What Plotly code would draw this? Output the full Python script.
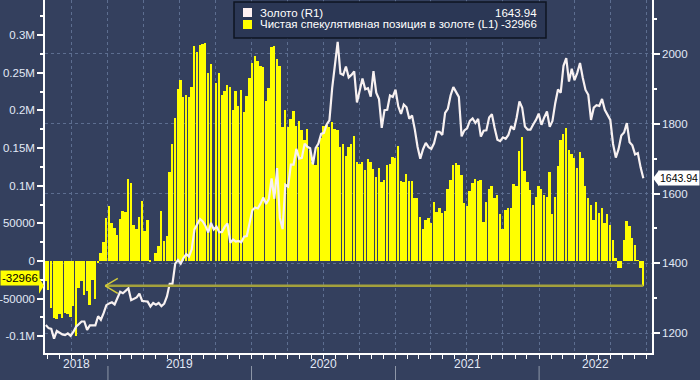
import pandas as pd
import plotly.graph_objects as go

# ---------------- data ----------------
start_date = "2018-07-27"   # weekly observations

# Gold price, weekly close (R1)
gold = [
    # 2018
    1223, 1214, 1212, 1184, 1206, 1201, 1196, 1194, 1199, 1192, 1203, 1218,
    1226, 1233, 1233, 1209, 1222, 1223, 1222, 1248, 1238, 1257, 1280,
    # 2019
    1285, 1288, 1282, 1303, 1318, 1314, 1322, 1328, 1294, 1298, 1302, 1313,
    1292, 1291, 1290, 1276, 1286, 1281, 1286, 1277, 1284, 1305, 1341, 1341,
    1399, 1409, 1399, 1415, 1426, 1419, 1440, 1497, 1513, 1527, 1520, 1507,
    1488, 1516, 1497, 1505, 1489, 1490, 1505, 1514, 1459, 1468, 1462, 1464,
    1460, 1476, 1478, 1511,
    # 2020
    1552, 1560, 1557, 1571, 1589, 1570, 1584, 1643, 1585, 1673, 1530, 1498,
    1625, 1620, 1683, 1683, 1728, 1700, 1702, 1743, 1734, 1730, 1684, 1730,
    1743, 1771, 1774, 1798, 1810, 1902, 1975, 2035, 1944, 1940, 1964, 1933,
    1940, 1950, 1861, 1900, 1930, 1899, 1902, 1878, 1951, 1889, 1871, 1788,
    1839, 1840, 1881, 1877,
    # 2021
    1898, 1850, 1828, 1855, 1847, 1814, 1824, 1784, 1734, 1700, 1727, 1745,
    1733, 1728, 1744, 1777, 1777, 1768, 1831, 1843, 1881, 1905, 1891, 1877,
    1764, 1781, 1787, 1808, 1815, 1802, 1814, 1763, 1780, 1781, 1818, 1827,
    1788, 1754, 1750, 1761, 1757, 1768, 1793, 1783, 1818, 1864, 1846, 1792,
    1783, 1783, 1798, 1811, 1829,
    # 2022
    1797, 1818, 1835, 1791, 1808, 1859, 1898, 1889, 1966, 1988, 1921, 1958,
    1925, 1946, 1974, 1932, 1897, 1883, 1811, 1846, 1853, 1851, 1871, 1840,
    1827, 1811, 1742, 1703, 1727, 1766, 1775, 1802, 1747, 1738, 1712, 1716,
    1675, 1643.94,
]

# Net speculative position in gold, thousands of contracts (L1)
net_k = [
    -27, -38, -62, -76, -77, -70, -76, -69, -71, -74, -60, -100, -36, -26,
    -45, -40, -58, -25, -50, -3,
    11, 25, 57, 73, 51, 44, 34, 56, 66, 65, 109, 104, 48, 43, 58, 80, 40, 55,
    -2, 0,
    11, 20, 66, 26, 33, 118, 156, 190, 229, 241, 218, 221, 218, 231, 285, 278,
    287, 288, 290, 249, 262, None, 236, 250, 220, 226, 234, 231, 200, 226, 206,
    227, 198, 219, 243, 263, 272, 265,
    259, 258, 212, 230, 284, 286, 268, 259, 178, 200, 178, 189, 199, 179, 186,
    174, 161, 175, 147, 132, 127.5, 152, 164, 179, 181, 178, 185, 175, 174,
    152, 155, 139, 152, 155, 166, 131, 129, 131, 121,
    136, 131, 122, 112, 124, 105, 107, 127.5, 129, 138, 137, 153, 106, 105,
    115, 106, 106, 84, 84, 58, 42.5, 55, 57, 51, 78.5, 65, 70, 64, 66, 96,
    107.5, 127.5, 130, 127.5, 114, 77, 73, 93,
    103, 109, 106, 107.5, 52, 78, 95, 100, 84, 88, 62, 42.5, 68, 70, 70, 102,
    100, 146, 165, 119.5, 105, 94, 75, 85, 100, 96, 88, 85, 118, 62, 85, 126,
    161, 169,
    176, 147, 142, 137, 123.5, 145, 137, 100, 84, 74, 54.5, 78, 64, 70, 50.5,
    62, 48, 28, 4, -9, -9, 28, 53, 46.5, 30.5, 21, 1, -9, -32.966,
]

years = [2018, 2019, 2020, 2021, 2022]
left_tickvals = [-100000, -50000, 0, 50000, 100000, 150000, 200000, 250000, 300000]
left_ticktext = ["-0.1M", "-50000", "0", "50000", "0.1M", "0.15M", "0.2M", "0.25M", "0.3M"]
right_tickvals = [1200, 1400, 1600, 1800, 2000]

gold_name = "Золото (R1)"
net_name = "Чистая спекулятивная позиция в золоте (L1)"

# ---------------- build ----------------
dates = pd.date_range(start_date, periods=len(gold), freq="7D")
net = [None if v is None else round(v * 1000) for v in net_k]
last_gold = gold[-1]
last_net = net[-1]

BG = "#34405e"
GRID = "#5d6e90"
TXT = "#e2e9f6"
YEL = "#ffff00"
FONT = "Liberation Sans"

x_range = [pd.Timestamp("2018-07-25"), pd.Timestamp("2022-10-15")]
y_range = [-122200, 346600]
y2_range = [1142.7, 2154.8]

ML, MR, MT, MB = 45, 48, 0, 27
PLOT_W = 700 - ML - MR
PLOT_H = 380 - MT - MB

fig = go.Figure()
fig.add_trace(go.Bar(
    x=dates, y=net, yaxis="y", marker=dict(color=YEL, line=dict(width=0)),
    width=4.8 * 86400000, name=net_name, showlegend=False,
))
fig.add_trace(go.Scatter(
    x=dates, y=gold, yaxis="y2", mode="lines",
    line=dict(color="#f8f1f1", width=2.2), name=gold_name, showlegend=False,
))

shapes = []
annotations = []

def ypap(v, rng):
    return (v - rng[0]) / (rng[1] - rng[0])

# horizontal level line for last net position, with an open arrow head
tip = pd.Timestamp("2018-12-25")
shapes.append(dict(type="line", xref="x", yref="y", x0=tip, x1=dates[-1],
                   y0=last_net, y1=last_net, line=dict(color="#a4a13c", width=2.5),
                   layer="above"))
arm = tip + pd.Timedelta(days=32)
shapes.append(dict(type="line", xref="x", yref="y", x0=tip, x1=arm,
                   y0=last_net, y1=last_net + 10000, line=dict(color="#d4cc3a", width=1.5)))
shapes.append(dict(type="line", xref="x", yref="y", x0=tip, x1=arm,
                   y0=last_net, y1=last_net - 10000, line=dict(color="#d4cc3a", width=1.5)))

# year separators and labels below the axis
for yr in years[1:]:
    shapes.append(dict(type="line", xref="x", yref="paper",
                       x0=pd.Timestamp(f"{yr}-01-01"), x1=pd.Timestamp(f"{yr}-01-01"),
                       y0=-13 / PLOT_H, y1=-27 / PLOT_H,
                       line=dict(color="#8e97a8", width=1)))
for yr in years:
    a = max(pd.Timestamp(f"{yr}-01-01"), x_range[0])
    b = min(pd.Timestamp(f"{yr + 1}-01-01"), x_range[1])
    mid = a + (b - a) / 2
    annotations.append(dict(x=mid, y=0, xref="x", yref="paper", yshift=-20,
                            text=str(yr), showarrow=False,
                            font=dict(color=TXT, size=12, family=FONT)))

# last value labels on axes
h = 8 / PLOT_H
gy = ypap(last_gold, y2_range)
annotations.append(dict(x=1, y=gy, xref="paper", yref="paper", xanchor="left",
                        xshift=6, text=f"{last_gold:.2f}", showarrow=False,
                        bgcolor="#ffffff", borderpad=1,
                        font=dict(color="#000000", size=10.5, family=FONT)))
shapes.append(dict(type="path", xref="paper", yref="paper",
                   path=f"M {1 + 1 / PLOT_W} {gy} L {1 + 7 / PLOT_W} {gy + h} L {1 + 7 / PLOT_W} {gy - h} Z",
                   fillcolor="#ffffff", line=dict(width=0)))

ny = ypap(last_net, y_range)
annotations.append(dict(x=0, y=ny, xref="paper", yref="paper", xanchor="right",
                        xshift=-5, text=f"{last_net}", showarrow=False,
                        bgcolor=YEL, borderpad=1,
                        font=dict(color="#000000", size=11.5, family=FONT)))
shapes.append(dict(type="path", xref="paper", yref="paper",
                   path=f"M {-1 / PLOT_W} {ny} L {-6 / PLOT_W} {ny + h} L {-6 / PLOT_W} {ny - h} Z",
                   fillcolor=YEL, line=dict(width=0)))

# custom legend box
def px(xp):
    return (xp - ML) / PLOT_W

def py(yp):
    return 1 - (yp - MT) / PLOT_H

shapes.append(dict(type="rect", xref="paper", yref="paper",
                   x0=px(234), x1=px(546), y0=py(38), y1=py(2),
                   fillcolor="#2b3755", line=dict(color="#0e1422", width=1.5),
                   layer="above"))
rows = [(gold_name, f"{last_gold:.2f}", "#fff2f2", 12.5),
        (net_name, f"{last_net}", YEL, 24.5)]
for name, val, col, yc in rows:
    shapes.append(dict(type="rect", xref="paper", yref="paper",
                       x0=px(243), x1=px(252), y0=py(yc + 4.5), y1=py(yc - 4.5),
                       fillcolor=col, line=dict(width=0), layer="above"))
    annotations.append(dict(x=px(258), y=py(yc), xref="paper", yref="paper",
                            xanchor="left", yanchor="middle", text=name, showarrow=False,
                            font=dict(color="#ffffff", size=11.5, family=FONT)))
    annotations.append(dict(x=px(539), y=py(yc), xref="paper", yref="paper",
                            xanchor="right", yanchor="middle", text=val, showarrow=False,
                            font=dict(color="#ffffff", size=11.5, family=FONT)))

fig.update_layout(
    width=700, height=380,
    margin=dict(l=ML, r=MR, t=MT, b=MB, autoexpand=False),
    paper_bgcolor=BG, plot_bgcolor=BG,
    bargap=0, showlegend=False,
    font=dict(family=FONT, color=TXT, size=11.5),
    shapes=shapes, annotations=annotations,
    xaxis=dict(
        type="date", range=x_range, showline=True, linecolor="#ffffff", linewidth=1.5,
        ticks="outside", ticklen=4, tickcolor="#ffffff", tickwidth=1,
        dtick="M3", tick0="2018-01-01", showticklabels=False,
        showgrid=True, gridcolor=GRID, griddash="3px,3px", gridwidth=1,
        minor=dict(dtick="M1", tick0="2018-01-01", ticks="outside", ticklen=4,
                   tickcolor="#ffffff", showgrid=False),
        zeroline=False,
    ),
    yaxis=dict(
        range=y_range, tickvals=left_tickvals, ticktext=left_ticktext,
        ticks="outside", ticklen=6, tickcolor="#ffffff", tickwidth=1.5,
        showline=True, linecolor="#ffffff", linewidth=1.5,
        showgrid=False, zeroline=False,
        minor=dict(dtick=25000, tick0=0, ticks="outside", ticklen=3, tickcolor="#ffffff",
                   showgrid=False),
        tickfont=dict(color=TXT, size=11.5, family=FONT),
    ),
    yaxis2=dict(
        range=y2_range, tickvals=right_tickvals, overlaying="y", side="right",
        ticks="outside", ticklen=6, tickcolor="#ffffff", tickwidth=1.5,
        showline=True, linecolor="#ffffff", linewidth=1.5,
        showgrid=True, gridcolor=GRID, griddash="3px,3px", gridwidth=1, zeroline=False,
        minor=dict(dtick=100, tick0=1200, ticks="outside", ticklen=3, tickcolor="#ffffff",
                   showgrid=False),
        tickfont=dict(color=TXT, size=11.5, family=FONT),
    ),
)

fig.write_html("out.html", config={"displayModeBar": False})

# remove the default page margin so the figure sits at the window's top-left corner
with open("out.html", encoding="utf-8") as f:
    html = f.read()
html = html.replace(
    "<head>",
    "<head><style>html,body{margin:0;padding:0;overflow:hidden;background:%s}</style>" % BG,
    1,
)
with open("out.html", "w", encoding="utf-8") as f:
    f.write(html)
